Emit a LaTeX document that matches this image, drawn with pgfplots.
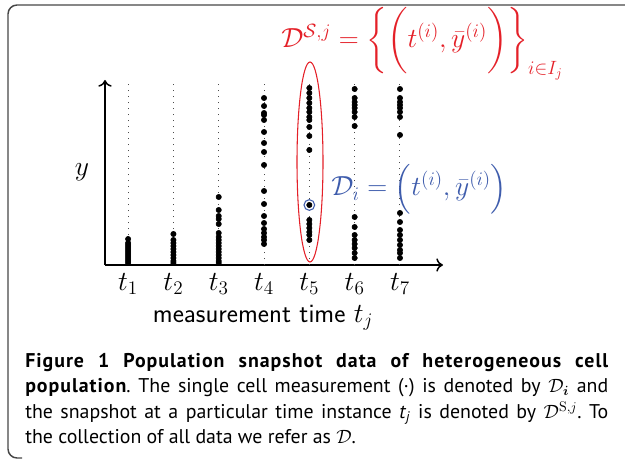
\documentclass[border=0pt]{standalone}
\usepackage{amsmath}
\usepackage{pgfplots}
\pgfplotsset{compat=1.18}
\usetikzlibrary{arrows.meta}
\usepackage{fontspec}
\newfontfamily\capfont[BoldFeatures={LetterSpace=5}]{PT Sans}
\definecolor{myred}{RGB}{228,32,40}
\definecolor{myblue}{RGB}{62,92,172}
\definecolor{framegray}{RGB}{70,70,70}
\frenchspacing
\begin{document}
\begin{tikzpicture}[x=0.75pt,y=-0.75pt]
\path[use as bounding box] (0,0) rectangle (625,460);
% frame
\draw[framegray,line width=1.1pt] (625,5) -- (17,5) arc[start angle=270,end angle=180,radius=9] -- (8,449) arc[start angle=180,end angle=90,radius=9] -- (22,458);
\begin{axis}[
  at={(78.75pt,-198.75pt)}, anchor=south west,
  scale only axis, width=253.5pt, height=138.75pt,
  xmin=0.49, xmax=7.95, ymin=0, ymax=185,
  axis lines=left,
  axis line style={line width=1.1pt, -{To[length=5pt,width=10pt,line width=1.1pt]}},
  xtick={1,2,3,4,5,6,7},
  xticklabels={$t_1$,$t_2$,$t_3$,$t_4$,$t_5$,$t_6$,$t_7$},
  ytick=\empty,
  major tick length=0pt,
  clip=false,
  tick label style={font=\fontsize{20}{24}\selectfont},
  xticklabel style={yshift=-3pt},
]
% dotted guide lines
\foreach \i in {1,...,7}{
  \edef\temp{\noexpand\addplot[black!70, line width=0.7pt, dash pattern=on 0.7pt off 3.8pt, forget plot] coordinates {(\i,0) (\i,183)};}
  \temp
}
% snapshot data
\addplot[only marks, mark=*, mark size=2pt, black] coordinates {
 (1,2)(1,4)(1,6)(1,8)(1,10)(1,12)(1,14)(1,16)(1,18)(1,20)(1,22)(1,26)
 (2,2)(2,4)(2,7)(2,10)(2,13)(2,16)(2,19)(2,22)(2,25)(2,31)
 (3,2)(3,4)(3,7)(3,10)(3,13)(3,16)(3,19)(3,22)(3,25)(3,28)(3,32)(3,41)(3,46)(3,49)(3,55)(3,68)
 (4,21)(4,25)(4,28)(4,32)(4,36)(4,42)(4,49)(4,61)(4,74)(4,100)(4,113)(4,122)(4,133)(4,145)(4,150)(4,152)(4,159)(4,167)
 (5,25)(5,30)(5,33)(5,37)(5,41)(5,45)(5,60)(5,115)(5,129)(5,138)(5,145)(5,148)(5,153)(5,157)(5,162)(5,167)(5,172)(5,177)
 (6,7)(6,12)(6,17)(6,21)(6,25)(6,30)(6,38)(6,48)(6,139)(6,148)(6,153)(6,157)(6,160)(6,163)(6,167)(6,176)
 (7,7)(7,12)(7,15)(7,20)(7,25)(7,30)(7,35)(7,43)(7,52)(7,130)(7,148)(7,153)(7,157)(7,160)(7,163)(7,167)(7,176)
};
\draw[myblue, line width=0.8pt] (axis cs:5,60) circle[radius=4pt];
\end{axis}
% annotations
\draw[myred, line width=0.8pt] (310,162) ellipse[x radius=13, y radius=100];
\node[anchor=west, text=myred, inner sep=0pt, font=\fontsize{19.2}{19.6}\selectfont] at (281,44)
  {$\mathcal{D}^{\mathcal{S},j} = \bigg\{ \bigg( t^{(i)}, \bar{y}^{(i)} \bigg) \bigg\}_{i\in I_j}$};
\node[anchor=west, text=myblue, inner sep=0pt, font=\fontsize{20}{20}\selectfont] at (331,189)
  {$\mathcal{D}_i = \Big( t^{(i)}, \bar{y}^{(i)} \Big)$};
\node[font=\fontsize{20}{24}\selectfont] at (82,172) {$y$};
\node[font=\fontsize{20}{24}\selectfont\sffamily] at (263,318) {measurement time $t_j$};
% caption
\begin{scope}[every node/.style={anchor=base west, inner sep=0pt, font=\capfont\fontsize{14.9}{19}\selectfont}]
\node at (25,367) {\makebox[437.25pt][s]{\bfseries Figure 1 Population snapshot data of heterogeneous cell}};
\node at (25,392.5) {\makebox[437.25pt][s]{\textbf{population}. The single cell measurement (·) is denoted by $\mathcal{D}_{\boldsymbol{i}}$ and}};
\node at (25,418) {\makebox[437.25pt][s]{the snapshot at a particular time instance \textit{t}\textsubscript{\textit{j}} is denoted by $\mathcal{D}^{\mathrm{S},j}$. To}};
\node at (25,443.5) {the collection of all data we refer as $\mathcal{D}$.};
\end{scope}
\end{tikzpicture}
\end{document}
